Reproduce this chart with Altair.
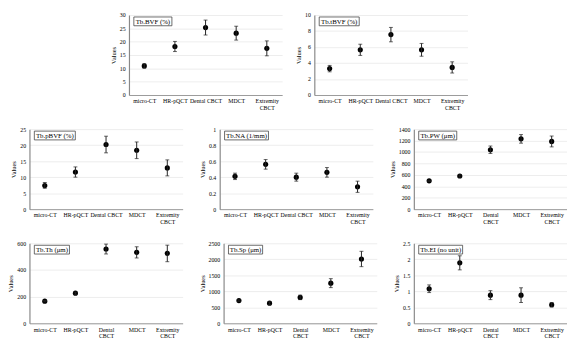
import altair as alt
import pandas as pd

CATS = ["micro-CT", "HR-pQCT", "Dental CBCT", "MDCT", "Extremity CBCT"]

TITLES = ["Tb.BVF (%)", "Tb.tBVF (%)", "Tb.pBVF (%)", "Tb.NA (1/mm)",
          "Tb.PW (\u03bcm)", "Tb.Th (\u03bcm)", "Tb.Sp (\u03bcm)", "Tb.EI (no unit)"]

BVF_MEAN = [10.9, 18.2, 25.3, 23.2, 17.5]
BVF_ERR = [0.8, 1.9, 2.8, 2.6, 2.8]
TBVF_MEAN = [3.3, 5.65, 7.55, 5.65, 3.45]
TBVF_ERR = [0.4, 0.7, 0.9, 0.8, 0.7]
PBVF_MEAN = [7.4, 11.6, 20.2, 18.4, 12.9]
PBVF_ERR = [0.9, 1.6, 2.6, 2.6, 2.5]
NA_MEAN = [0.41, 0.56, 0.40, 0.46, 0.28]
NA_ERR = [0.04, 0.06, 0.05, 0.06, 0.07]
PW_MEAN = [495, 580, 1040, 1230, 1185]
PW_ERR = [10, 20, 65, 75, 95]
TH_MEAN = [166, 226, 557, 532, 524]
TH_ERR = [5, 8, 37, 42, 62]
SP_MEAN = [710, 630, 810, 1255, 2010]
SP_ERR = [25, 40, 70, 140, 240]
EI_MEAN = [1.08, 1.89, 0.88, 0.88, 0.58]
EI_ERR = [0.12, 0.22, 0.14, 0.23, 0.07]

Y_MAX = [30, 10, 25, 1, 1400, 600, 2500, 2.5]
Y_STEP = [5, 2, 5, 0.2, 200, 200, 500, 0.5]
Y_FMT = ["d", "d", "d", "~g", "d", "d", "d", "~g"]
BOX_W = [39, 41, 42, 45, 39, 36, 35, 45]
TWO_LINE_DENTAL = [False, False, False, False, True, True, True, True]

MEANS = [BVF_MEAN, TBVF_MEAN, PBVF_MEAN, NA_MEAN, PW_MEAN, TH_MEAN, SP_MEAN, EI_MEAN]
ERRS = [BVF_ERR, TBVF_ERR, PBVF_ERR, NA_ERR, PW_ERR, TH_ERR, SP_ERR, EI_ERR]

W = 157
H = 82
FONT = "Liberation Serif"


def panel(i):
    mean = MEANS[i]
    err = ERRS[i]
    df = pd.DataFrame({
        "cat": CATS,
        "mean": mean,
        "lo": [m - e for m, e in zip(mean, err)],
        "hi": [m + e for m, e in zip(mean, err)],
    })
    n = int(round(Y_MAX[i] / Y_STEP[i]))
    ticks = [round(k * Y_STEP[i], 4) for k in range(n + 1)]
    if TWO_LINE_DENTAL[i]:
        lab = "indexof(datum.label, ' CBCT') > 0 ? [replace(datum.label, ' CBCT', ''), 'CBCT'] : datum.label"
    else:
        lab = "datum.label == 'Extremity CBCT' ? ['Extremity', 'CBCT'] : datum.label"
    x = alt.X("cat:N", sort=CATS,
              scale=alt.Scale(type="point", padding=0.5),
              axis=alt.Axis(title=None, labelAngle=0, labelExpr=lab, grid=False,
                            labelLineHeight=7, labelPadding=3, domainColor="#999"))
    yscale = alt.Scale(domain=[0, Y_MAX[i]], nice=False, zero=True)
    yaxis = alt.Axis(title="Values", values=ticks, grid=True, labelPadding=4,
                     format=Y_FMT[i], titlePadding=3, domainColor="#888",
                     domainWidth=1.2, labelOverlap=False)
    y = alt.Y("mean:Q", scale=yscale, axis=yaxis)
    base = alt.Chart(df)
    rule = base.mark_rule(color="#222", strokeWidth=1).encode(
        x=x, y=alt.Y("lo:Q", scale=yscale, axis=yaxis), y2="hi:Q")
    cap_lo = base.mark_tick(color="#222", size=4, thickness=1).encode(
        x=x, y=alt.Y("lo:Q", scale=yscale, axis=yaxis))
    cap_hi = base.mark_tick(color="#222", size=4, thickness=1).encode(
        x=x, y=alt.Y("hi:Q", scale=yscale, axis=yaxis))
    pts = base.mark_circle(size=28, color="black", opacity=1).encode(x=x, y=y)

    tdf = pd.DataFrame({"t": [TITLES[i]]})
    bx = 5
    box = alt.Chart(tdf).mark_rect(fill="white", stroke="#444", strokeWidth=0.8).encode(
        x=alt.value(bx), x2=alt.value(bx + BOX_W[i]), y=alt.value(2), y2=alt.value(11))
    txt = alt.Chart(tdf).mark_text(font=FONT, fontSize=7, color="black",
                                   align="center", baseline="middle").encode(
        x=alt.value(bx + BOX_W[i] / 2), y=alt.value(7), text="t:N")
    return alt.layer(pts, rule, cap_lo, cap_hi, box, txt).properties(width=W, height=H)


row1 = alt.hconcat(panel(0), panel(1), spacing=14)
row2 = alt.hconcat(panel(2), panel(3), panel(4), spacing=17)
row3 = alt.hconcat(panel(5), panel(6), panel(7), spacing=17)

chart = alt.vconcat(row1, row2, row3, spacing=16, center=True).properties(
    padding={"left": 0, "top": 0, "right": 0, "bottom": 0},
    background="white"
).configure_axis(
    labelFont=FONT, titleFont=FONT, labelFontSize=6, titleFontSize=6.5,
    titleFontWeight="normal", labelColor="black", titleColor="black",
    ticks=False, gridColor="#e8e8e8", gridWidth=0.8
).configure_view(stroke=None)

chart.save("out.html", embed_options={"renderer": "svg", "actions": False})
